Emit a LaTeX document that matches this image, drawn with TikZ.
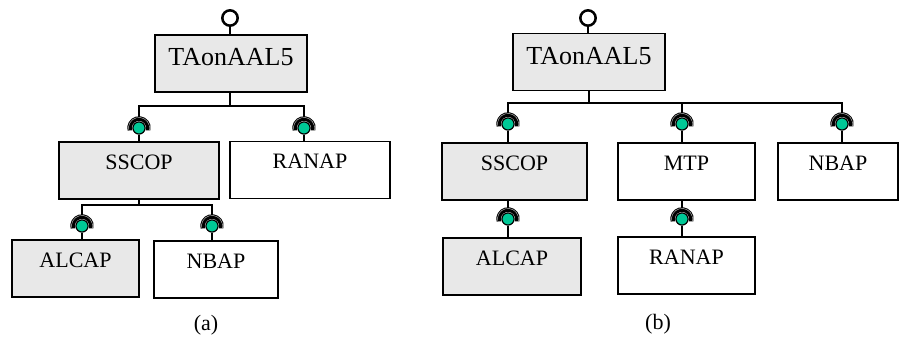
\documentclass[tikz,border=0pt]{standalone}
\usepackage{fontspec}
\setmainfont{Liberation Serif}
\begin{document}
\definecolor{sockgreen}{RGB}{0,200,150}
\definecolor{boxgray}{RGB}{232,232,232}
\begin{tikzpicture}[x=0.75pt,y=0.75pt,
  box/.style={draw, line width=1.4pt, inner sep=0pt, minimum width=#1,
    text height=20.5pt, text depth=22.3pt,
    font=\fontsize{16.5}{18}\selectfont},
  gbox/.style={box=#1, fill=boxgray},
  topbox/.style={draw, line width=1.4pt, inner sep=0pt, fill=boxgray,
    minimum width=114pt, text height=22.9pt, text depth=19.8pt,
    font=\fontsize{19.5}{22}\selectfont},
  wire/.style={line width=2.2pt},
  port/.style={circle, draw, line width=1.9pt, fill=white, inner sep=0pt,
    minimum size=11.5pt},
  socket/.style={circle, draw, line width=0.8pt, fill=sockgreen, inner sep=0pt,
    minimum size=9pt},
  sockarc/.style={line width=3.4pt},
  caption/.style={font=\fontsize{16.5}{18}\selectfont}
]
\path[use as bounding box] (0,0) rectangle (904,337);

% ---------------- (a) ----------------
\node[port] (topa) at (230,319) {};
\node[topbox] (ta) at (231,273.5) {TAonAAL5};
\coordinate (busa1) at (230,231);
\node[socket] (a1) at (139,209) {};
\node[socket] (a2) at (304,209) {};
\node[gbox=120pt] (sscopa) at (139,166.5) {SSCOP};
\node[box=120pt] (ranapa) at (310,167) {RANAP};
\coordinate (busa2) at (139,132);
\node[socket] (a3) at (82,111) {};
\node[socket] (a4) at (212,111) {};
\node[gbox=95.25pt] (alcapa) at (75.5,68.5) {ALCAP};
\node[box=93pt] (nbapa) at (216,67.5) {NBAP};
\node[caption] (capa) at (206,12) {(a)};

% ---------------- (b) ----------------
\node[port] (topb) at (588,319) {};
\node[topbox] (tb) at (589,275) {TAonAAL5};
\coordinate (busb) at (589,234);
\node[socket] (b1) at (508,213) {};
\node[socket] (b2) at (682,213) {};
\node[socket] (b3) at (842,213) {};
\node[gbox=108.75pt] (sscopb) at (514.5,165.5) {SSCOP};
\node[box=102.75pt] (mtpb) at (686.5,165.5) {MTP};
\node[box=90pt] (nbapb) at (838,165.5) {NBAP};
\node[socket] (b4) at (508,118) {};
\node[socket] (b5) at (682,118) {};
\node[gbox=103.5pt] (alcapb) at (512,70.5) {ALCAP};
\node[box=102.75pt] (ranapb) at (686.5,71.5) {RANAP};
\node[caption] (capb) at (658,13) {(b)};

% ---------------- connectors ----------------
\begin{scope}[wire]
  \draw (topa.south) -- (topa.south |- ta.north);
  \draw (ta.south -| busa1) -- (busa1);
  \draw (a1.north) |- (busa1) -| (a2.north);
  \draw (a1.south) -- (a1.south |- sscopa.north);
  \draw (a2.south) -- (a2.south |- ranapa.north);
  \draw (sscopa.south -| busa2) -- (busa2);
  \draw (a3.north) |- (busa2) -| (a4.north);
  \draw (a3.south) -- (a3.south |- alcapa.north);
  \draw (a4.south) -- (a4.south |- nbapa.north);

  \draw (topb.south) -- (topb.south |- tb.north);
  \draw (tb.south -| busb) -- (busb);
  \draw (b1.north) |- (busb) -| (b3.north);
  \draw (b2.north) -- (b2.north |- busb);
  \draw (b1.south) -- (b1.south |- sscopb.north);
  \draw (b2.south) -- (b2.south |- mtpb.north);
  \draw (b3.south) -- (b3.south |- nbapb.north);
  \draw (b4.north) -- (b4.north |- sscopb.south);
  \draw (b5.north) -- (b5.north |- mtpb.south);
  \draw (b4.south) -- (b4.south |- alcapb.north);
  \draw (b5.south) -- (b5.south |- ranapb.north);
\end{scope}

% socket hoods drawn over the wires
\foreach \s in {a1,a2,a3,a4,b1,b2,b3,b4,b5}{
  \draw[sockarc] ([shift={(195:7.1pt)}]\s.center) arc[start angle=195,end angle=-15,radius=7.1pt];
  \draw[gray!45,line width=0.3pt] ([shift={(195:7.9pt)}]\s.center) arc[start angle=195,end angle=-15,radius=7.9pt];
  \node[socket] at (\s.center) {};
}
\end{tikzpicture}
\end{document}
